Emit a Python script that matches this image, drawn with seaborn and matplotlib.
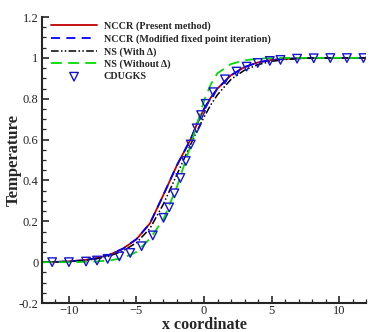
import numpy as np
import pandas as pd
import matplotlib
matplotlib.use('Agg')
import matplotlib.pyplot as plt
import seaborn as sns
from matplotlib.ticker import MultipleLocator

# curves
x_line = [-12, -11, -10, -9, -8, -7, -6, -5, -4, -3, -2, -1, -0.5, 0, 0.5, 1, 2, 3, 4, 5, 6, 7, 8, 10, 12]
nccr_present = [0.0, 0.001, 0.004, 0.009, 0.019, 0.036, 0.066, 0.112, 0.19, 0.33, 0.475, 0.60, 0.68, 0.75, 0.805, 0.85, 0.915, 0.955, 0.978, 0.99, 0.995, 0.998, 1.0, 1.0, 1.0]
nccr_modified = [0.0, 0.001, 0.004, 0.009, 0.019, 0.036, 0.066, 0.113, 0.19, 0.33, 0.475, 0.60, 0.68, 0.75, 0.805, 0.85, 0.915, 0.955, 0.978, 0.99, 0.995, 0.998, 1.0, 1.0, 1.0]
ns_with = [0.0, 0.001, 0.003, 0.007, 0.016, 0.03, 0.055, 0.095, 0.165, 0.285, 0.43, 0.575, 0.645, 0.71, 0.77, 0.82, 0.895, 0.94, 0.967, 0.983, 0.992, 0.997, 0.999, 1.0, 1.0]
ns_without = [0.0, 0.0, 0.0, 0.001, 0.003, 0.008, 0.02, 0.05, 0.115, 0.21, 0.37, 0.57, 0.68, 0.79, 0.87, 0.925, 0.97, 0.988, 0.996, 0.999, 1.0, 1.0, 1.0, 1.0, 1.0]

x_cdugks = [-11.24, -10.0, -8.73, -7.92, -7.13, -6.27, -5.46, -4.62, -3.79, -3.0, -2.58, -2.19, -1.75, -1.35,
            -0.98, -0.54, -0.22, 0.12, 0.69, 1.55, 2.41, 3.15, 3.98, 4.87, 5.66, 6.89, 8.12, 9.35, 10.58, 11.8]
t_cdugks = [0.0, 0.0, 0.003, 0.008, 0.016, 0.028, 0.045, 0.078, 0.131, 0.217, 0.268, 0.337, 0.412, 0.495,
            0.576, 0.655, 0.72, 0.775, 0.832, 0.895, 0.933, 0.957, 0.975, 0.985, 0.99, 0.996, 0.998, 0.999, 0.999, 0.999]

sns.set_style('ticks')
plt.rcParams['font.family'] = ['Liberation Serif', 'DejaVu Serif']

fig = plt.figure(figsize=(3.74, 3.32), dpi=100)
ax = fig.add_axes([0.112, 0.0873, 0.867, 0.8614])

df = pd.DataFrame({'x': x_line, 'red': nccr_present, 'blue': nccr_modified,
                   'black': ns_with, 'green': ns_without})

sns.lineplot(data=df, x='x', y='red', ax=ax, color='#c00000', lw=1.3,
             label='NCCR (Present method)')
sns.lineplot(data=df, x='x', y='blue', ax=ax, color='#0000ff', lw=1.3,
             linestyle=(0, (5, 3.5)), label='NCCR (Modified fixed point iteration)')
sns.lineplot(data=df, x='x', y='black', ax=ax, color='black', lw=1.1,
             linestyle=(0, (5, 1.5, 1, 1.5, 1, 1.5)), label='NS (With Δ)')
sns.lineplot(data=df, x='x', y='green', ax=ax, color='#00dd00', lw=1.3,
             linestyle=(0, (6, 3.5)), label='NS (Without Δ)')
sns.scatterplot(x=x_cdugks, y=t_cdugks, ax=ax, marker='v', s=38, facecolor='none',
                edgecolor='#1515d0', linewidth=1.0, label='CDUGKS', zorder=5)

ax.set_xlim(-12, 12)
ax.set_ylim(-0.2, 1.2)
ax.xaxis.set_major_locator(MultipleLocator(5))
ax.xaxis.set_minor_locator(MultipleLocator(1))
ax.yaxis.set_major_locator(MultipleLocator(0.2))
ax.yaxis.set_minor_locator(MultipleLocator(0.05))
ax.yaxis.set_major_formatter(plt.FuncFormatter(lambda v, p: '%g' % round(v, 2)))
ax.tick_params(which='major', direction='in', length=5, width=1.2, labelsize=9, pad=1.5)
ax.tick_params(axis='y', which='major', pad=2.5)
ax.tick_params(which='minor', direction='in', length=3, width=0.9)
for s in ['top', 'right']:
    ax.spines[s].set_visible(False)
for s in ['left', 'bottom']:
    ax.spines[s].set_linewidth(1.5)

ax.set_xlabel('x coordinate', fontsize=11.5, fontweight='bold')
ax.set_ylabel('Temperature', fontsize=12, fontweight='bold')
ax.xaxis.set_label_coords(0.5, -0.049)
ax.yaxis.set_label_coords(-0.062, 0.5)

leg = ax.legend(loc='upper left', bbox_to_anchor=(0.01, 1.005), frameon=False,
                prop={'weight': 'bold', 'size': 7.3}, handlelength=4.5,
                handletextpad=0.7, labelspacing=0.3, borderaxespad=0.2)

fig.savefig('out.png', dpi=100)
